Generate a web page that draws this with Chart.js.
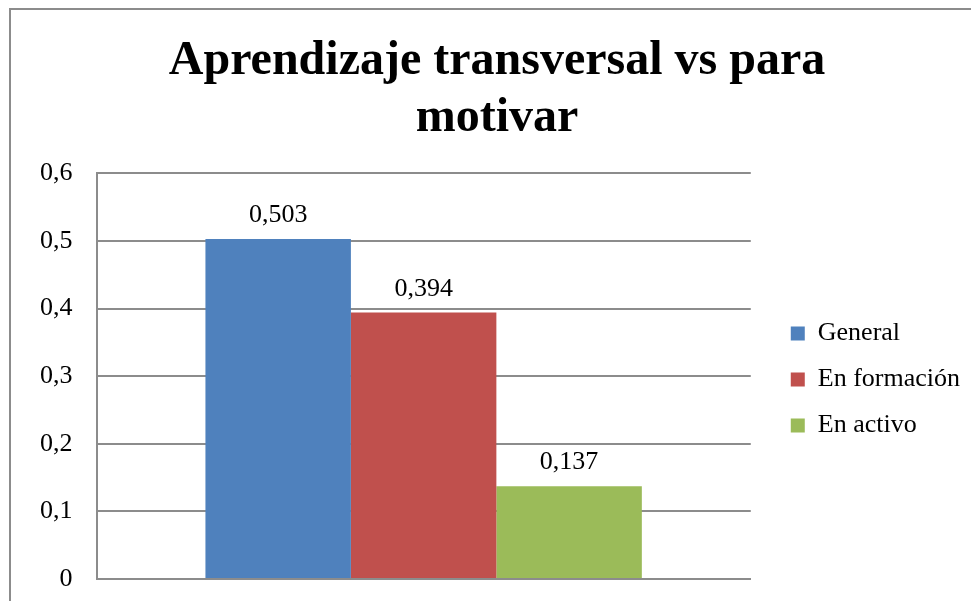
<!DOCTYPE html>
<html>
<head>
<meta charset="utf-8">
<script src="https://cdn.jsdelivr.net/npm/chart.js@4.4.1/dist/chart.umd.min.js"></script>
<style>
  html, body { margin: 0; padding: 0; background: #fff; }
  #wrap { width: 971px; height: 601px; }
</style>
</head>
<body>
<div id="wrap"><canvas id="chart" width="971" height="601"></canvas></div>
<script>
const categories = [''];
const seriesNames = ['General', 'En formación', 'En activo'];
const general = [0.503];
const enFormacion = [0.394];
const enActivo = [0.137];
const yTicks = [0, 0.1, 0.2, 0.3, 0.4, 0.5, 0.6];

const colors = ['#4F81BD', '#C0504D', '#9BBB59'];
const serif = "'Liberation Serif', 'Times New Roman', serif";

function fmt(v) {
  return String(v).replace('.', ',');
}

// outer frame like the Excel chart border
const framePlugin = {
  id: 'frame',
  beforeDraw(chart) {
    const c = chart.ctx;
    c.save();
    c.fillStyle = '#fff';
    c.fillRect(0, 0, chart.width, chart.height);
    c.strokeStyle = '#8c8c8c';
    c.lineWidth = 2;
    c.strokeRect(10, 9, 1000, 700);
    c.restore();
  }
};

// nudge legend (away from plot, down to the middle) and recentre the title
const layoutTweaks = {
  id: 'layoutTweaks',
  afterLayout(chart) {
    const lg = chart.legend;
    lg.left += 20;
    lg.right += 20;
    lg.top += 73;
    lg.bottom += 73;
    const t = chart.titleBlock;
    t.left += 14;
    t.right += 14;
  }
};

// value labels above the bars
const valueLabels = {
  id: 'valueLabels',
  afterDatasetsDraw(chart) {
    const c = chart.ctx;
    c.save();
    c.font = '26px ' + serif;
    c.fillStyle = '#000';
    c.textAlign = 'center';
    c.textBaseline = 'alphabetic';
    chart.data.datasets.forEach((ds, i) => {
      chart.getDatasetMeta(i).data.forEach((bar, j) => {
        c.fillText(fmt(ds.data[j]), bar.x, bar.y - 17);
      });
    });
    c.restore();
  }
};

const chart = new Chart(document.getElementById('chart'), {
  type: 'bar',
  data: {
    labels: categories,
    datasets: [
      { label: seriesNames[0], data: general, backgroundColor: colors[0] },
      { label: seriesNames[1], data: enFormacion, backgroundColor: colors[1] },
      { label: seriesNames[2], data: enActivo, backgroundColor: colors[2] }
    ]
  },
  options: {
    responsive: false,
    animation: false,
    devicePixelRatio: 1,
    layout: { padding: { left: 16, right: 21, top: 34, bottom: 22 } },
    datasets: { bar: { categoryPercentage: 0.667, barPercentage: 1 } },
    scales: {
      x: {
        ticks: { display: false },
        grid: { display: false, drawTicks: false },
        border: { color: '#8c8c8c', width: 2 }
      },
      y: {
        min: 0,
        max: 0.6,
        afterBuildTicks(axis) {
          axis.ticks = yTicks.map(v => ({ value: v }));
        },
        afterFit(axis) {
          axis.paddingTop = 0;
          axis.paddingBottom = 0;
        },
        ticks: {
          padding: 24,
          color: '#000',
          font: { family: serif, size: 26 },
          callback: v => fmt(Math.round(v * 10) / 10)
        },
        grid: { color: '#8c8c8c', lineWidth: 2, drawTicks: false },
        border: { color: '#8c8c8c', width: 2 }
      }
    },
    plugins: {
      title: {
        display: true,
        text: ['Aprendizaje transversal vs para', 'motivar'],
        color: '#000',
        font: { family: serif, size: 48, weight: 'bold', lineHeight: 1.17 },
        padding: { top: 0, bottom: 27 }
      },
      legend: {
        position: 'right',
        labels: {
          color: '#000',
          font: { family: serif, size: 26 },
          boxWidth: 14,
          boxHeight: 14,
          padding: 20
        }
      },
      tooltip: { enabled: false }
    }
  },
  plugins: [framePlugin, layoutTweaks, valueLabels]
});
</script>
</body>
</html>
